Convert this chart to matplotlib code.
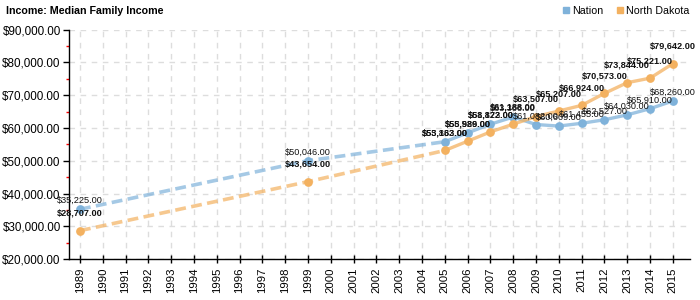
import matplotlib
matplotlib.use("Agg")
import matplotlib.pyplot as plt
from matplotlib.lines import Line2D
from matplotlib.ticker import FuncFormatter, MultipleLocator

plt.rcParams['font.family'] = ['Liberation Sans', 'DejaVu Sans']

# --- Data ---
years = [1989, 1999, 2005, 2006, 2007, 2008, 2009, 2010, 2011, 2012, 2013, 2014, 2015]
nation = [35225, 50046, 55832, 58526, 61173, 63366, 61082, 60609, 61455, 62527, 64030, 65910, 68260]
north_dakota = [28707, 43654, 53163, 55989, 58822, 61188, 63507, 65207, 66924, 70573, 73844, 75221, 79642]
series_names = ["Nation", "North Dakota"]
title = "Income: Median Family Income"

BLUE = '#7fb2da'
ORANGE = '#f3b160'

fig = plt.figure(figsize=(7, 3), dpi=100)
ax = fig.add_axes([0.0986, 0.136, 0.887, 0.765])

def draw_series(values, color, bold, offset):
    # sparse early years dashed, yearly data solid
    ax.plot(years[:3], values[:3], color=color, lw=2.6, ls=(0, (3, 1.5)), alpha=0.7,
            solid_capstyle='butt', zorder=2)
    ax.plot(years[2:], values[2:], color=color, lw=2.4, alpha=0.75, zorder=2)
    ax.plot(years, values, 'o', color=color, ms=6.3, mec='none', zorder=3)
    for x, v in zip(years, values):
        ax.annotate(f"${v:,.2f}", (x, v), xytext=(0, offset), textcoords='offset points',
                    ha='center', va='center', fontsize=6.6,
                    fontweight='bold' if bold else 'normal', color='#111111', zorder=4)

draw_series(nation, BLUE, False, 6.2)
draw_series(north_dakota, ORANGE, True, 12.4)

ax.set_xlim(1988.52, 2015.75)
ax.set_ylim(20000, 90000)
ax.set_xticks(range(1989, 2016))
ax.set_xticklabels([str(y) for y in range(1989, 2016)], rotation=90, fontsize=8.2)
ax.yaxis.set_major_locator(MultipleLocator(10000))
ax.yaxis.set_minor_locator(MultipleLocator(5000))
ax.yaxis.set_major_formatter(FuncFormatter(lambda v, p: f"${v:,.2f}"))
ax.tick_params(axis='y', which='major', labelsize=8.4, direction='out', length=4, width=1, pad=2)
ax.tick_params(axis='y', which='minor', direction='out', length=2.5, width=1, color='red')
ax.tick_params(axis='x', direction='inout', length=6, width=1, pad=3)

ax.grid(True, which='major', color='#dddddd', ls=(0, (4, 4)), lw=1)
ax.set_axisbelow(True)
for s in ['top', 'right']:
    ax.spines[s].set_visible(False)
for s in ['left', 'bottom']:
    ax.spines[s].set_color('black')
    ax.spines[s].set_linewidth(1)

fig.text(0.008, 0.965, title, fontsize=7.7, fontweight='bold', va='center', ha='left')

handles = [Line2D([], [], marker='s', ls='none', color=BLUE, ms=5),
           Line2D([], [], marker='s', ls='none', color=ORANGE, ms=5)]
fig.legend(handles, series_names, loc='center right', bbox_to_anchor=(0.985, 0.965), ncol=2,
           frameon=False, fontsize=7.7, handlelength=0.6, handletextpad=0.3,
           columnspacing=1.2, borderaxespad=0, borderpad=0)

fig.savefig('out.png', dpi=100)
